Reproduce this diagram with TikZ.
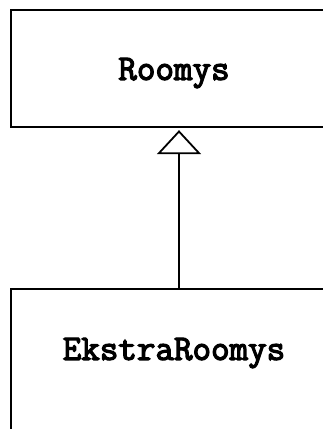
\documentclass[tikz,border=0pt]{standalone}
\usepackage{fontspec}
\newfontfamily\classfont{Latin Modern Mono}[FakeBold=3.5]
\usetikzlibrary{arrows.meta}

\begin{document}
\begin{tikzpicture}[x=1pt,y=1pt,
  classbox/.style={rectangle,draw=black,line width=2.3pt,minimum width=336pt},
  classname/.style={font=\fontsize{36}{42}\selectfont\classfont},
  inherit/.style={line width=2.3pt,-{Triangle[open,length=24pt,width=44pt,line width=1.8pt]}}]
\useasboundingbox (0,0) rectangle (322,-429);
\node[classbox,minimum height=117pt](roomys) at (179,-68.5){};
\node[classname](roomysname) at (174,-73){Roomys};
\node[classbox,minimum height=170pt,anchor=north](ekstra) at (179,-288){};
\node[classname](ekstraname) at (174,-353){EkstraRoomys};
\draw[inherit] (ekstra.north) -- ([yshift=-2pt]roomys.south);
\end{tikzpicture}
\end{document}
